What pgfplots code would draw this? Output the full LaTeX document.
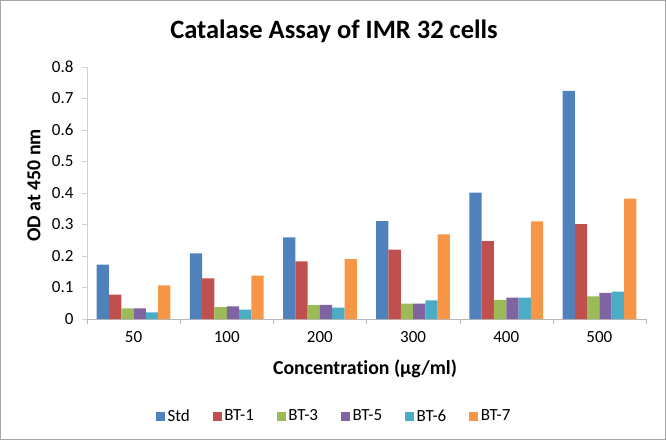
\documentclass[border=0pt]{standalone}
\usepackage{fontspec}
\setmainfont{Carlito}[Ligatures={NoCommon}]
\usepackage{pgfplots}
\pgfplotsset{compat=1.18}

\definecolor{cStd}{HTML}{4F81BD}
\definecolor{cBTa}{HTML}{C0504D}
\definecolor{cBTb}{HTML}{9BBB59}
\definecolor{cBTc}{HTML}{8064A2}
\definecolor{cBTd}{HTML}{4BACC6}
\definecolor{cBTe}{HTML}{F79646}
\definecolor{frameg}{HTML}{A6A6A6}

\begin{document}
\begin{tikzpicture}
\useasboundingbox (-87bp,-121bp) rectangle (579bp,319bp);
\draw[frameg, line width=0.8bp] (-86.5bp,-120.5bp) rectangle (578.5bp,318.5bp);
\begin{axis}[
    name=ax,
    at={(0,0)}, anchor=south west,
    scale only axis,
    width=559bp, height=252bp,
    ybar=0pt, bar width=12.3bp,
    xmin=-0.5, xmax=5.5,
    ymin=0, ymax=0.8,
    ytick={0,0.1,...,0.8},
    xtick={0,1,2,3,4,5},
    xticklabels={50,100,200,300,400,500},
    minor xtick={-0.5,0.5,1.5,2.5,3.5,4.5,5.5},
    axis lines*=left,
    x axis line style={draw=gray!55,-},
    y axis line style={draw=gray!35,-},
    tick align=outside,
    major tick length=5bp,
    minor tick length=5bp,
    x tick style={draw=none},
    minor x tick style={draw=gray!55},
    y tick style={draw=gray!35},
    /pgf/number format/assume math mode=true,
    tick label style={font=\fontsize{17bp}{19bp}\selectfont},
    xticklabel style={yshift=-3.5bp},
    yticklabel style={xshift=-5bp},
    legend style={at={(0.4428,-0.385)}, anchor=center, draw=none,
        font=\fontsize{17bp}{19bp}\selectfont, legend columns=-1,
        nodes={inner xsep=2.5bp},
        /tikz/every even column/.append style={column sep=20.5bp}},
    legend image code/.code={\fill[#1] (0bp,-4.5bp) rectangle (9bp,4.5bp);},
    clip=false,
]
\addplot[fill=cStd, draw=none] coordinates {(0,0.173) (1,0.208) (2,0.259) (3,0.311) (4,0.401) (5,0.724)};
\addplot[fill=cBTa, draw=none] coordinates {(0,0.077) (1,0.129) (2,0.183) (3,0.220) (4,0.247) (5,0.301)};
\addplot[fill=cBTb, draw=none] coordinates {(0,0.034) (1,0.038) (2,0.044) (3,0.049) (4,0.061) (5,0.072)};
\addplot[fill=cBTc, draw=none] coordinates {(0,0.034) (1,0.040) (2,0.045) (3,0.049) (4,0.068) (5,0.083)};
\addplot[fill=cBTd, draw=none] coordinates {(0,0.021) (1,0.030) (2,0.036) (3,0.059) (4,0.068) (5,0.087)};
\addplot[fill=cBTe, draw=none] coordinates {(0,0.107) (1,0.138) (2,0.190) (3,0.269) (4,0.310) (5,0.382)};
\legend{Std,BT-1,BT-3,BT-5,BT-6,BT-7}
\end{axis}
\node[font=\fontsize{26.5bp}{30bp}\selectfont\bfseries, anchor=base] at (247bp,280.7bp) {Catalase Assay of IMR 32 cells};
\node[font=\fontsize{19.8bp}{22bp}\selectfont\bfseries, rotate=90] at (-53bp,133.5bp) {OD at 450 nm};
\node[font=\fontsize{19.8bp}{22bp}\selectfont\bfseries] at (278bp,-50bp) {Concentration (μg/ml)};
\end{tikzpicture}
\end{document}
